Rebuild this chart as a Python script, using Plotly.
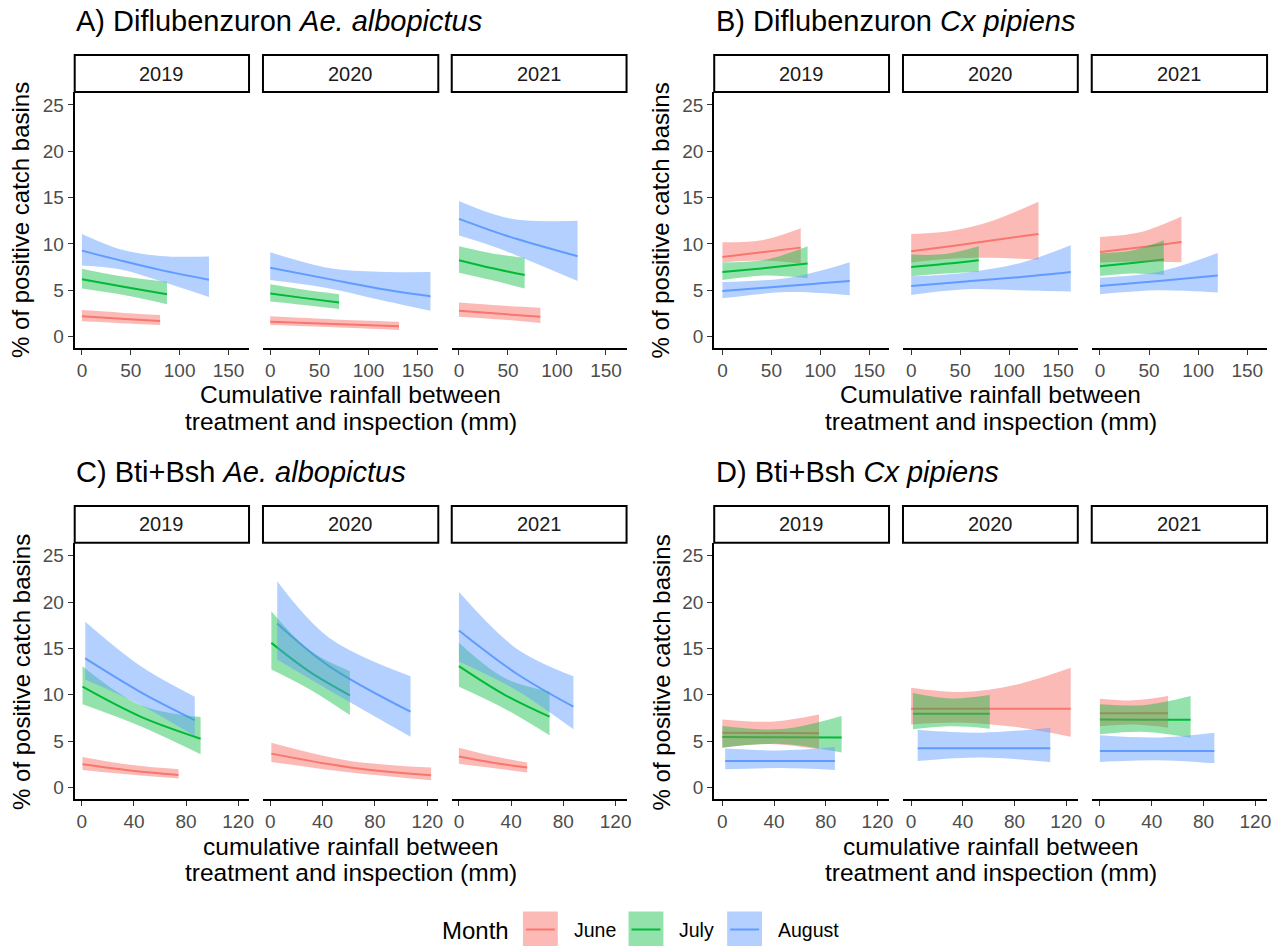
import plotly.graph_objects as go

W, H = 1288, 946

MONTHS = ["June", "July", "August"]
YEARS = ["2019", "2020", "2021"]
LINE_COLORS = ["#F8766D", "#00BA38", "#619CFF"]
RIBBON_FILL = ["rgba(248,118,109,0.5)", "rgba(0,186,56,0.42)", "rgba(97,156,255,0.48)"]
Y_TICKS = [0, 5, 10, 15, 20, 25]
X_TICKS_DIFLU = [0, 50, 100, 150]
X_TICKS_BTI = [0, 40, 80, 120]

# each row: (cumulative rainfall mm, fitted %, lower CI %, upper CI %)
# ---- A) Diflubenzuron Ae. albopictus
A19_june = [(0, 2.18, 1.65, 2.86), (40, 1.92, 1.45, 2.58), (80, 1.68, 1.25, 2.32)]
A19_july = [(0, 6.18, 5.18, 7.32), (44, 5.35, 4.45, 6.45), (87, 4.57, 3.5, 5.93)]
A19_aug = [(0, 9.28, 7.68, 11.07), (40, 8.2, 7.25, 9.4), (80, 7.2, 6.0, 8.7), (130, 6.14, 4.28, 8.64)]
A20_june = [(0, 1.61, 1.25, 2.18), (65, 1.35, 1.0, 1.85), (131, 1.11, 0.72, 1.61)]
A20_july = [(0, 4.64, 3.79, 5.64), (35, 4.15, 3.4, 5.05), (70, 3.68, 2.97, 4.57)]
A20_aug = [(0, 7.43, 6.1, 9.1), (60, 6.2, 5.2, 7.4), (110, 5.2, 4.0, 7.0), (163, 4.36, 2.78, 6.96)]
A21_june = [(0, 2.78, 2.14, 3.68), (42, 2.45, 1.85, 3.35), (83, 2.14, 1.47, 3.1)]
A21_july = [(0, 8.24, 6.9, 9.74), (33, 7.4, 6.1, 9.0), (67, 6.64, 5.18, 8.5)]
A21_aug = [(0, 12.7, 10.9, 14.64), (30, 11.55, 9.9, 13.4), (60, 10.5, 8.7, 12.6), (121, 8.67, 6.0, 12.5)]

# ---- B) Diflubenzuron Cx pipiens
B19_june = [(0, 8.6, 8.0, 10.17), (40, 9.1, 8.2, 10.4), (80, 9.6, 7.9, 11.7)]
B19_july = [(0, 6.96, 6.1, 8.0), (44, 7.4, 6.6, 8.3), (87, 7.89, 6.3, 9.74)]
B19_aug = [(0, 4.93, 4.14, 5.89), (65, 5.45, 4.8, 6.3), (100, 5.75, 4.7, 7.1), (130, 6.0, 4.46, 8.03)]
B20_june = [(0, 9.2, 8.0, 11.07), (40, 9.75, 8.4, 11.4), (80, 10.35, 8.5, 12.4), (130, 11.07, 8.3, 14.56)]
B20_july = [(0, 7.5, 6.5, 8.85), (35, 7.85, 6.8, 8.9), (69, 8.24, 7.0, 9.74)]
B20_aug = [(0, 5.46, 4.5, 6.5), (56, 5.95, 5.1, 6.9), (110, 6.4, 5.0, 7.9), (163, 6.96, 4.86, 9.85)]
B21_june = [(0, 9.14, 8.0, 10.75), (42, 9.65, 8.1, 11.3), (83, 10.2, 8.03, 12.96)]
B21_july = [(0, 7.6, 6.53, 9.0), (33, 7.95, 6.8, 9.3), (65, 8.32, 6.64, 10.4)]
B21_aug = [(0, 5.46, 4.57, 6.36), (60, 6.0, 5.0, 7.0), (120, 6.6, 4.75, 9.03)]

# ---- C) Bti+Bsh Ae. albopictus
C19_june = [(0.5, 2.51, 1.9, 3.3), (37, 1.85, 1.4, 2.45), (74.2, 1.36, 0.97, 1.97)]
C19_july = [(0.5, 10.87, 8.97, 13.09), (45, 7.65, 6.6, 8.9), (91.2, 5.27, 3.58, 7.6)]
C19_aug = [(2.6, 13.92, 11.66, 17.87), (45, 10.3, 8.9, 13.1), (86.7, 7.28, 5.55, 9.8)]
C20_june = [(0.9, 3.66, 2.76, 4.84), (60, 2.2, 1.65, 2.9), (122.9, 1.32, 0.79, 2.15)]
C20_july = [(0.9, 15.6, 12.73, 19.0), (30, 12.5, 10.6, 14.8), (60.9, 9.94, 7.81, 12.55)]
C20_aug = [(5.4, 17.69, 13.8, 22.24), (45, 13.1, 10.5, 16.15), (107.2, 8.18, 5.49, 12.0)]
C21_june = [(0, 3.34, 2.58, 4.3), (26, 2.68, 2.1, 3.4), (52.3, 2.15, 1.61, 2.69)]
C21_july = [(0, 13.09, 10.87, 15.6), (35, 10.0, 8.5, 11.8), (69.4, 7.64, 5.63, 10.37)]
C21_aug = [(0, 16.93, 13.6, 21.1), (44, 12.3, 10.5, 15.0), (87.7, 8.72, 6.28, 12.0)]

# ---- D) Bti+Bsh Cx pipiens
D19_june = [(0, 5.92, 4.3, 7.35), (37, 5.88, 4.7, 7.1), (74.8, 5.85, 4.12, 7.89)]
D19_july = [(0, 5.45, 4.3, 6.63), (46, 5.42, 4.7, 6.3), (92.3, 5.4, 3.77, 7.71)]
D19_aug = [(2.2, 2.86, 1.97, 4.2), (45, 2.86, 2.1, 4.0), (87.1, 2.86, 1.9, 4.37)]
D20_june = [(0, 8.5, 6.8, 10.76), (40, 8.5, 7.0, 10.3), (80, 8.5, 6.55, 11.05), (123.5, 8.5, 5.49, 12.92)]
D20_july = [(1.4, 7.97, 6.28, 10.2), (31, 7.97, 6.6, 9.6), (60.9, 7.97, 6.35, 9.97)]
D20_aug = [(5.1, 4.23, 2.86, 6.2), (55, 4.23, 3.23, 5.92), (107.7, 4.23, 2.76, 6.46)]
D21_june = [(0, 8.0, 6.6, 9.58), (26, 8.0, 6.8, 9.4), (52.6, 8.0, 6.46, 9.86)]
D21_july = [(0, 7.35, 5.74, 8.97), (35, 7.32, 6.0, 8.9), (70, 7.3, 5.38, 9.86)]
D21_aug = [(0, 3.94, 2.76, 5.63), (44, 3.94, 2.95, 5.4), (88.3, 3.94, 2.62, 5.92)]

PANELS = [
    dict(title="A) Diflubenzuron <i>Ae. albopictus</i>",
         xtitle=["Cumulative rainfall between", "treatment and inspection (mm)"],
         xticks=X_TICKS_DIFLU, xrange=[-7.4, 171], col=0, row=0,
         data=[[A19_june, A19_july, A19_aug], [A20_june, A20_july, A20_aug], [A21_june, A21_july, A21_aug]]),
    dict(title="B) Diflubenzuron <i>Cx pipiens</i>",
         xtitle=["Cumulative rainfall between", "treatment and inspection (mm)"],
         xticks=X_TICKS_DIFLU, xrange=[-8.4, 170.2], col=1, row=0,
         data=[[B19_june, B19_july, B19_aug], [B20_june, B20_july, B20_aug], [B21_june, B21_july, B21_aug]]),
    dict(title="C) Bti+Bsh <i>Ae. albopictus</i>",
         xtitle=["cumulative rainfall between", "treatment and inspection (mm)"],
         xticks=X_TICKS_BTI, xrange=[-5.5, 128.4], col=0, row=1,
         data=[[C19_june, C19_july, C19_aug], [C20_june, C20_july, C20_aug], [C21_june, C21_july, C21_aug]]),
    dict(title="D) Bti+Bsh <i>Cx pipiens</i>",
         xtitle=["cumulative rainfall between", "treatment and inspection (mm)"],
         xticks=X_TICKS_BTI, xrange=[-6.3, 129], col=1, row=1,
         data=[[D19_june, D19_july, D19_aug], [D20_june, D20_july, D20_aug], [D21_june, D21_july, D21_aug]]),
]

# ---- layout geometry (pixels)
FACET_X = [[(75, 250), (264, 440), (453.5, 629)],
           [(717, 892.5), (906.5, 1082), (1096, 1272)]]
ROWS = [dict(strip=(55, 92), plot=(92, 347.5), title=21, xt=(395, 421.5), ytc=220),
        dict(strip=(506, 542.7), plot=(542.7, 798.5), title=472, xt=(846, 872), ytc=672)]
PANEL_LEFT = [74, 717]
YTITLE_X = [21, 664]
Y_RANGE = [-1.18, 26.4]

FONT = "Liberation Sans, Arial, Helvetica, sans-serif"
TICK_FONT = dict(family=FONT, size=19, color="#4D4D4D")


def px(x):
    return x / W


def py(y):
    return 1 - y / H


fig = go.Figure()
shapes = []
annotations = []

idx = 0
for p in PANELS:
    r = ROWS[p["row"]]
    for fi, year in enumerate(YEARS):
        idx += 1
        xa = "x" if idx == 1 else f"x{idx}"
        ya = "y" if idx == 1 else f"y{idx}"
        x0, x1 = FACET_X[p["col"]][fi]
        series = p["data"][fi]
        # fitted lines first
        for mi, rows in enumerate(series):
            fig.add_trace(go.Scatter(
                x=[t[0] for t in rows], y=[t[1] for t in rows], mode="lines",
                line=dict(color=LINE_COLORS[mi], width=2, shape="spline"),
                xaxis=xa, yaxis=ya, showlegend=False, hoverinfo="skip"))
        # confidence ribbons drawn on top
        for mi, rows in enumerate(series):
            fig.add_trace(go.Scatter(
                x=[t[0] for t in rows], y=[t[2] for t in rows], mode="lines",
                line=dict(width=0, shape="spline", color=LINE_COLORS[mi]),
                xaxis=xa, yaxis=ya, showlegend=False, hoverinfo="skip"))
            fig.add_trace(go.Scatter(
                x=[t[0] for t in rows], y=[t[3] for t in rows], mode="lines",
                line=dict(width=0, shape="spline", color=LINE_COLORS[mi]),
                fill="tonexty", fillcolor=RIBBON_FILL[mi],
                xaxis=xa, yaxis=ya, showlegend=False, hoverinfo="skip"))

        first = fi == 0
        fig.layout[("xaxis" if idx == 1 else f"xaxis{idx}")] = dict(
            domain=[px(x0), px(x1)], range=p["xrange"], anchor=ya,
            tickvals=p["xticks"], ticktext=[str(v) for v in p["xticks"]],
            ticks="outside", ticklen=5, tickwidth=1, tickcolor="#333333",
            showline=True, linecolor="black", linewidth=2,
            showgrid=False, zeroline=False, tickfont=TICK_FONT)
        fig.layout[("yaxis" if idx == 1 else f"yaxis{idx}")] = dict(
            domain=[py(r["plot"][1]), py(r["plot"][0])], range=Y_RANGE, anchor=xa,
            tickvals=Y_TICKS, ticktext=[str(v) for v in Y_TICKS],
            showticklabels=first, ticks="outside" if first else "",
            ticklen=5, tickwidth=1, tickcolor="#333333",
            showline=first, linecolor="black", linewidth=2,
            showgrid=False, zeroline=False, tickfont=TICK_FONT)

        # facet strip
        shapes.append(dict(type="rect", xref="paper", yref="paper",
                           x0=px(x0), x1=px(x1), y0=py(r["strip"][1]), y1=py(r["strip"][0]),
                           line=dict(color="black", width=2), fillcolor="white", layer="above"))
        annotations.append(dict(text=year, xref="paper", yref="paper",
                                x=px((x0 + x1) / 2), y=py((r["strip"][0] + r["strip"][1]) / 2),
                                showarrow=False, xanchor="center", yanchor="middle",
                                font=dict(family=FONT, size=20, color="#1A1A1A")))

    # panel title
    annotations.append(dict(text=p["title"], xref="paper", yref="paper",
                            x=px(PANEL_LEFT[p["col"]]), y=py(r["title"]),
                            showarrow=False, xanchor="left", yanchor="middle",
                            font=dict(family=FONT, size=29, color="black")))
    # x-axis title (two lines)
    fx0 = FACET_X[p["col"]][0][0]
    fx1 = FACET_X[p["col"]][2][1]
    for li, line in enumerate(p["xtitle"]):
        annotations.append(dict(text=line, xref="paper", yref="paper",
                                x=px((fx0 + fx1) / 2), y=py(r["xt"][li]),
                                showarrow=False, xanchor="center", yanchor="middle",
                                font=dict(family=FONT, size=24.5, color="black")))
    # y-axis title
    annotations.append(dict(text="% of positive catch basins", xref="paper", yref="paper",
                            x=px(YTITLE_X[p["col"]]), y=py(r["ytc"]), textangle=-90,
                            showarrow=False, xanchor="center", yanchor="middle",
                            font=dict(family=FONT, size=24, color="black")))

# ---- legend (drawn as keys)
annotations.append(dict(text="Month", xref="paper", yref="paper", x=px(442), y=py(930),
                        showarrow=False, xanchor="left", yanchor="middle",
                        font=dict(family=FONT, size=24, color="black")))
KEY_X = [525, 631, 730]
for mi, m in enumerate(MONTHS):
    kx = KEY_X[mi]
    shapes.append(dict(type="rect", xref="paper", yref="paper",
                       x0=px(kx), x1=px(kx + 35), y0=py(947), y1=py(911.5),
                       line=dict(width=0), fillcolor=RIBBON_FILL[mi]))
    shapes.append(dict(type="line", xref="paper", yref="paper",
                       x0=px(kx + 3), x1=px(kx + 32), y0=py(929.5), y1=py(929.5),
                       line=dict(color=LINE_COLORS[mi], width=2)))
    annotations.append(dict(text=m, xref="paper", yref="paper", x=px(kx + 49), y=py(930),
                            showarrow=False, xanchor="left", yanchor="middle",
                            font=dict(family=FONT, size=19.5, color="black")))

fig.update_layout(width=W, height=H, margin=dict(l=0, r=0, t=0, b=0),
                  paper_bgcolor="white", plot_bgcolor="white",
                  showlegend=False, shapes=shapes, annotations=annotations,
                  font=dict(family=FONT))

fig.write_html("out.html")
